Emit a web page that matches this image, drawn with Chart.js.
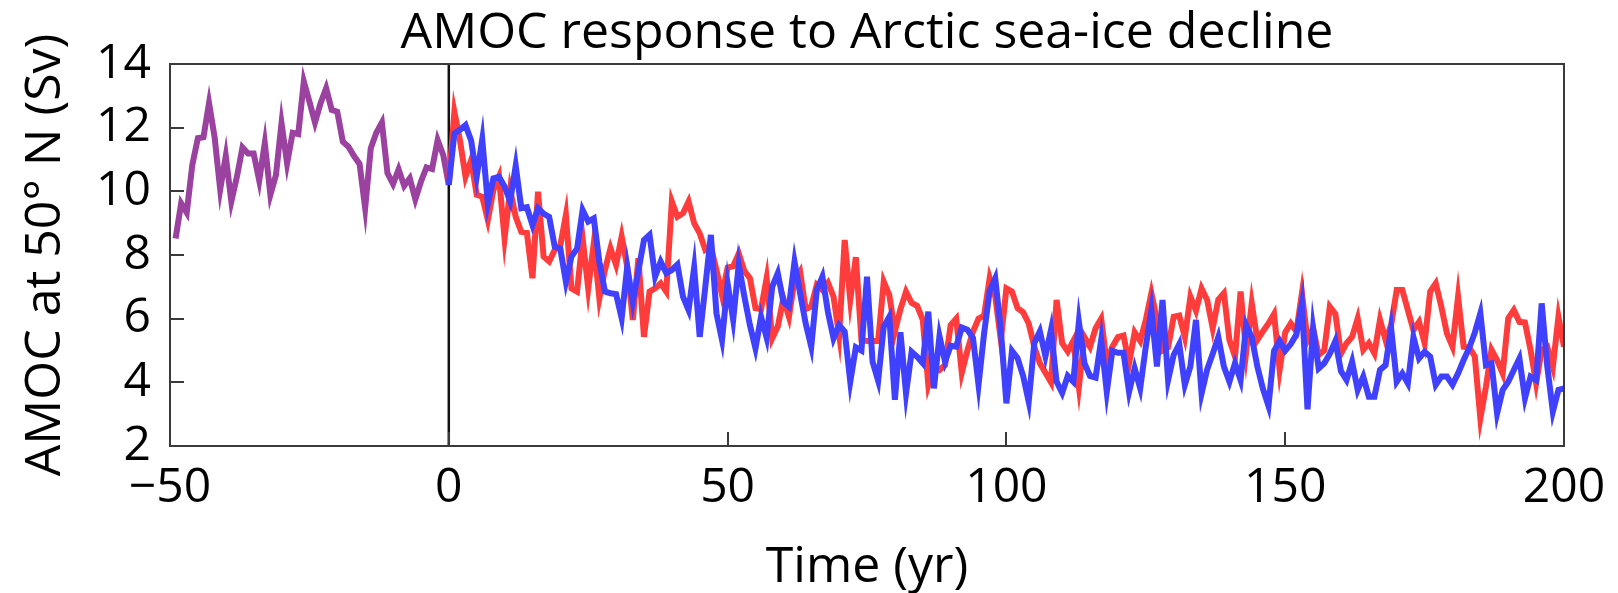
<!DOCTYPE html>
<html><head><meta charset="utf-8">
<script src="https://cdn.jsdelivr.net/npm/chart.js@4/dist/chart.umd.min.js"></script>
<style>html,body{margin:0;padding:0;background:#fff}</style>
</head><body>
<canvas id="c" width="1618" height="593"></canvas>
<script>
// ---- data ----
const controlStartYear = -49;
const controlAMOC = [
  8.52,9.62,9.33,10.83,11.67,11.7,12.77,11.7,10.06,11.11,
  9.68,10.46,11.38,11.19,11.19,10.34,11.51,9.89,10.51,12.14,
  10.88,11.84,11.8,13.45,12.82,12.16,12.77,13.24,12.56,12.5,
  11.56,11.4,11.11,10.86,9.47,11.35,11.84,12.16,10.57,10.23,
  10.69,10.17,10.41,9.75,10.3,10.75,10.7,11.61,11.14,10.2
];
const responseStartYear = 0;
const redAMOC = [
  10.25,12.5,11.6,10.46,10.98,9.89,9.83,9.1,10.04,10.46,
  8.52,10.04,9.2,8.73,8.7,7.27,9.99,7.95,7.8,8.16,
  8.3,9.26,6.95,6.85,8.52,6.95,8.37,6.64,7.53,8.21,
  7.69,8.58,7.63,5.96,7.9,5.43,6.85,6.95,7.11,6.85,
  9.68,9.2,9.31,9.68,9.0,8.68,8.16,8.26,7.53,6.74,
  7.6,7.65,8.05,7.5,7.27,6.33,6.3,7.27,5.38,5.75,
  6.64,6.06,7.2,7.48,6.3,6.38,7.06,6.9,7.13,6.69,
  5.49,8.47,6.59,7.93,5.33,5.3,5.3,5.3,7.16,6.74,
  5.6,6.3,6.85,6.5,6.4,5.96,3.92,4.5,4.39,4.54,
  5.8,6.0,4.3,5.0,5.59,6.0,6.1,7.27,6.69,5.33,
  6.95,6.85,6.33,6.2,5.85,5.12,4.6,4.3,4.0,6.59,
  5.23,4.97,5.3,3.86,5.42,5.12,5.7,6.0,4.6,5.12,
  5.42,5.47,4.6,5.57,5.3,5.96,6.8,5.96,5.0,5.1,
  6.06,6.1,5.42,6.69,6.25,6.95,6.59,5.7,6.6,6.8,
  5.33,4.81,6.85,4.96,6.48,5.33,5.6,5.85,6.15,4.39,
  5.57,5.85,5.6,6.8,5.33,5.7,4.86,5.0,6.38,6.15,
  4.9,5.23,5.43,6.01,5.02,5.23,4.91,5.96,5.33,5.8,
  6.9,6.9,6.27,5.64,5.9,5.23,6.85,7.11,6.38,5.54,
  5.12,6.69,5.12,5.1,4.81,2.87,3.86,5.02,4.7,4.28,
  6.01,6.27,5.9,5.88,5.02,3.97,5.02,5.12,4.49,6.06,
  5.12
];
const blueAMOC = [
  10.2,11.82,11.93,12.08,11.6,10.46,11.63,9.62,10.41,10.46,
  10.15,9.68,10.8,9.47,9.5,8.94,9.47,9.3,9.2,8.26,
  8.2,7.16,7.95,8.2,9.41,9.05,9.15,7.79,6.85,6.8,
  6.77,6.01,7.63,6.53,7.5,8.47,8.63,7.32,7.79,7.43,
  7.53,7.7,6.69,6.27,7.6,5.43,7.0,8.63,6.17,5.33,
  7.11,5.96,7.7,6.7,5.8,5.07,6.06,5.4,7.0,7.43,
  6.53,6.38,7.79,6.8,5.85,5.12,6.9,7.32,6.2,5.38,
  5.8,5.6,4.02,5.1,5.0,7.32,4.65,4.05,5.75,6.06,
  3.45,5.57,3.65,4.96,4.8,4.6,6.22,3.81,5.45,4.65,
  5.15,5.12,5.72,5.65,5.4,3.92,5.54,6.87,7.27,5.65,
  3.34,4.99,4.76,4.2,3.39,5.23,5.6,4.82,5.65,4.02,
  3.67,4.2,4.02,5.9,4.6,4.2,4.15,5.33,3.7,4.99,
  4.93,4.93,3.7,4.44,3.81,5.12,6.27,4.5,6.59,4.07,
  4.86,5.2,3.92,4.5,5.96,3.65,4.4,4.9,5.42,4.5,
  4.02,4.6,4.07,5.8,5.42,4.5,3.8,3.26,4.99,5.3,
  4.99,5.2,5.5,6.48,3.15,5.7,4.44,4.6,4.9,5.3,
  4.35,4.07,4.65,3.76,4.18,3.55,3.55,4.39,4.54,5.7,
  4.02,4.28,3.97,5.42,4.75,4.96,4.81,3.92,4.18,4.18,
  3.92,4.28,4.7,5.08,5.56,6.17,4.54,4.6,3.02,3.76,
  4.02,4.39,4.75,3.5,4.18,4.07,6.48,4.5,3.08,3.76,
  3.81
];
const xTicks = [-50, 0, 50, 100, 150, 200];
const yTicks = [2, 4, 6, 8, 10, 12, 14];
const forcingYear = 0;
const titleText = 'AMOC response to Arctic sea-ice decline';
const xTitle = 'Time (yr)';
const yTitle = 'AMOC at 50\u00B0 N (Sv)';

// ---- build chart ----
const toPts = (start, arr) => arr.map((v, i) => ({x: start + i, y: v}));
const FONT = "'Open Sans', 'DejaVu Sans', sans-serif";
const TICK = 14;

const framePlugin = {
  id: 'frame',
  afterDatasetsDraw(chart) {
    const {ctx, chartArea: a, scales: {x, y}} = chart;
    ctx.save();
    ctx.strokeStyle = '#3a3a3a';
    ctx.lineWidth = 2;
    ctx.strokeRect(a.left, a.top, a.right - a.left, a.bottom - a.top);
    ctx.beginPath();
    y.ticks.forEach(t => { const p = Math.round(y.getPixelForValue(t.value)); ctx.moveTo(a.left, p); ctx.lineTo(a.left + TICK, p); });
    x.ticks.forEach(t => { const p = Math.round(x.getPixelForValue(t.value)); ctx.moveTo(p, a.bottom); ctx.lineTo(p, a.bottom - TICK); });
    ctx.stroke();
    ctx.restore();
  }
};

new Chart(document.getElementById('c'), {
  type: 'line',
  data: {
    datasets: [
      {data: toPts(responseStartYear, blueAMOC), borderColor: 'rgb(64,64,255)', borderWidth: 6},
      {data: toPts(responseStartYear, redAMOC), borderColor: 'rgb(255,60,60)', borderWidth: 6},
      {data: toPts(controlStartYear, controlAMOC), borderColor: 'rgb(155,65,160)', borderWidth: 6},
      {data: [{x: forcingYear, y: yTicks[0]}, {x: forcingYear, y: yTicks[yTicks.length - 1]}], borderColor: '#111', borderWidth: 2.5}
    ]
  },
  options: {
    responsive: false,
    animation: false,
    devicePixelRatio: 1,
    layout: {padding: {left: 0, right: 54, top: 0, bottom: 0}},
    elements: {point: {radius: 0}, line: {tension: 0, fill: false}},
    plugins: {
      legend: {display: false},
      tooltip: {enabled: false},
      title: {display: true, fullSize: false, text: titleText, color: '#000',
        font: {family: FONT, size: 50, weight: 'normal', lineHeight: 1.2}, padding: {top: 4, bottom: 0}}
    },
    scales: {
      x: {
        type: 'linear', min: xTicks[0], max: xTicks[xTicks.length - 1],
        afterBuildTicks: s => { s.ticks = xTicks.map(v => ({value: v})); },
        afterFit: s => { s.height = 147; },
        grid: {display: false}, border: {display: false},
        ticks: {color: '#000', padding: 6, font: {family: FONT, size: 48},
          callback: v => v < 0 ? '\u2212' + Math.abs(v) : String(v), maxRotation: 0},
        title: {display: true, text: xTitle, color: '#000', font: {family: FONT, size: 50, lineHeight: 1.0}, padding: {top: 0, bottom: 0}}
      },
      y: {
        type: 'linear', min: yTicks[0], max: yTicks[yTicks.length - 1],
        afterBuildTicks: s => { s.ticks = yTicks.map(v => ({value: v})); },
        afterFit: s => { s.width = 170; },
        grid: {display: false}, border: {display: false},
        ticks: {color: '#000', padding: 11, font: {family: FONT, size: 48}},
        title: {display: true, text: yTitle, color: '#000', font: {family: FONT, size: 50, lineHeight: 1.2}, padding: {top: 16, bottom: 0}}
      }
    }
  },
  plugins: [framePlugin]
});
</script>
</body></html>
